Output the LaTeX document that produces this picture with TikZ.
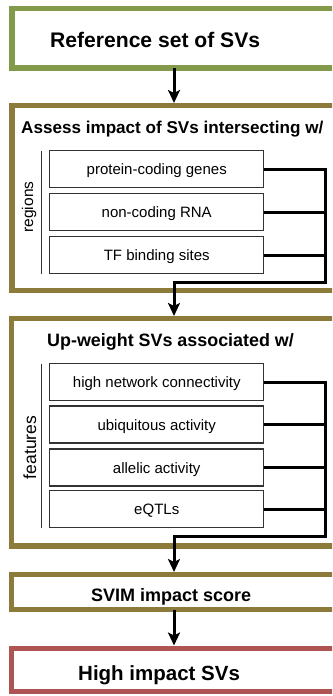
\documentclass[tikz,border=0pt]{standalone}
\usepackage{fontspec}
\setmainfont{Liberation Sans}
\usetikzlibrary{arrows.meta}
\definecolor{cgreen}{HTML}{849A4B}
\definecolor{colive}{HTML}{8C7B3B}
\definecolor{cred}{HTML}{AE5452}
\definecolor{cgray}{HTML}{333333}
\begin{document}
\begin{tikzpicture}[x=1pt,y=-1pt,
  outerbox/.style={draw, line width=5.5pt, anchor=north west, minimum width=340pt, outer sep=0pt, inner sep=0pt},
  itembox/.style={draw=cgray, line width=1.4pt, minimum width=214pt, minimum height=37pt, outer sep=0pt, inner sep=0pt, text height=12.5pt, text depth=1pt, font=\fontsize{15}{18}\selectfont},
  conn/.style={line width=3pt},
  arr/.style={line width=3pt, -{Stealth[length=13pt,width=12pt,inset=3pt]}, shorten >=2.5pt},
  sideline/.style={draw=cgray, line width=1.4pt},
  sidelabel/.style={rotate=90, inner sep=0pt},
  title/.style={anchor=base west, inner sep=0pt, font=\bfseries}]
\useasboundingbox (0,0) rectangle (332,696);
\clip (0,0) rectangle (332,696);
% outer boxes
\node[outerbox, draw=cgreen, minimum height=59.5pt] (b1) at (12,8.5) {};
\node[outerbox, draw=colive, minimum height=185pt] (b2) at (12,105.5) {};
\node[outerbox, draw=colive, minimum height=227.5pt] (b3) at (11.5,318.5) {};
\node[outerbox, draw=colive, minimum height=35pt] (b4) at (11.5,574.5) {};
\node[outerbox, draw=cred, minimum height=43pt] (b5) at (11.5,648.5) {};
% titles
\node[title, font=\bfseries\fontsize{21.1}{25}\selectfont] (t1) at (50,47) {Reference set of SVs};
\node[title, font=\bfseries\fontsize{17.1}{20}\selectfont] (t2) at (21,133.3) {Assess impact of SVs intersecting w/};
\node[title, font=\bfseries\fontsize{17.9}{21}\selectfont] (t3) at (47,346) {Up-weight SVs associated w/};
\node[title, font=\bfseries\fontsize{18}{21}\selectfont] (t4) at (91,601) {SVIM impact score};
\node[title, font=\bfseries\fontsize{20.5}{24}\selectfont] (t5) at (78,680.7) {High impact SVs};
% coordinates
\coordinate (ax) at (174,0);
\coordinate (lx) at (41.5,0);
\coordinate (rb) at (325.5,282);
\coordinate (fb) at (325.5,536);
% region items
\node[itembox] (r1) at (156.75,169) {protein-coding genes};
\node[itembox] (r2) at (156.75,212) {non-coding RNA};
\node[itembox] (r3) at (156.75,255) {TF binding sites};
\draw[sideline] (r1.north west -| lx) -- (r3.south west -| lx);
\node[sidelabel, font=\fontsize{15.5}{18}\selectfont] (lr) at (29,207) {regions};
% feature items
\node[itembox] (f1) at (156.75,382) {high network connectivity};
\node[itembox] (f2) at (156.75,424.5) {ubiquitous activity};
\node[itembox] (f3) at (156.75,467.5) {allelic activity};
\node[itembox] (f4) at (156.75,509) {eQTLs};
\draw[sideline] (f1.north west -| lx) -- (f4.south west -| lx);
\node[sidelabel, font=\fontsize{17.5}{20}\selectfont] (lf) at (30,447.5) {features};
% connectors
\draw[arr] (b1.south -| ax) -- (b2.north -| ax);
\draw[arr] (r1.east) -| (rb) -| (b3.north -| ax);
\draw[conn] (r2.east) -- (r2.east -| rb);
\draw[conn] (r3.east) -- (r3.east -| rb);
\draw[arr] (f1.east) -| (fb) -| (b4.north -| ax);
\draw[conn] (f2.east) -- (f2.east -| fb);
\draw[conn] (f3.east) -- (f3.east -| fb);
\draw[conn] (f4.east) -- (f4.east -| fb);
\draw[arr, shorten >=3pt] (b4.south -| ax) -- (b5.north -| ax);
\end{tikzpicture}
\end{document}
